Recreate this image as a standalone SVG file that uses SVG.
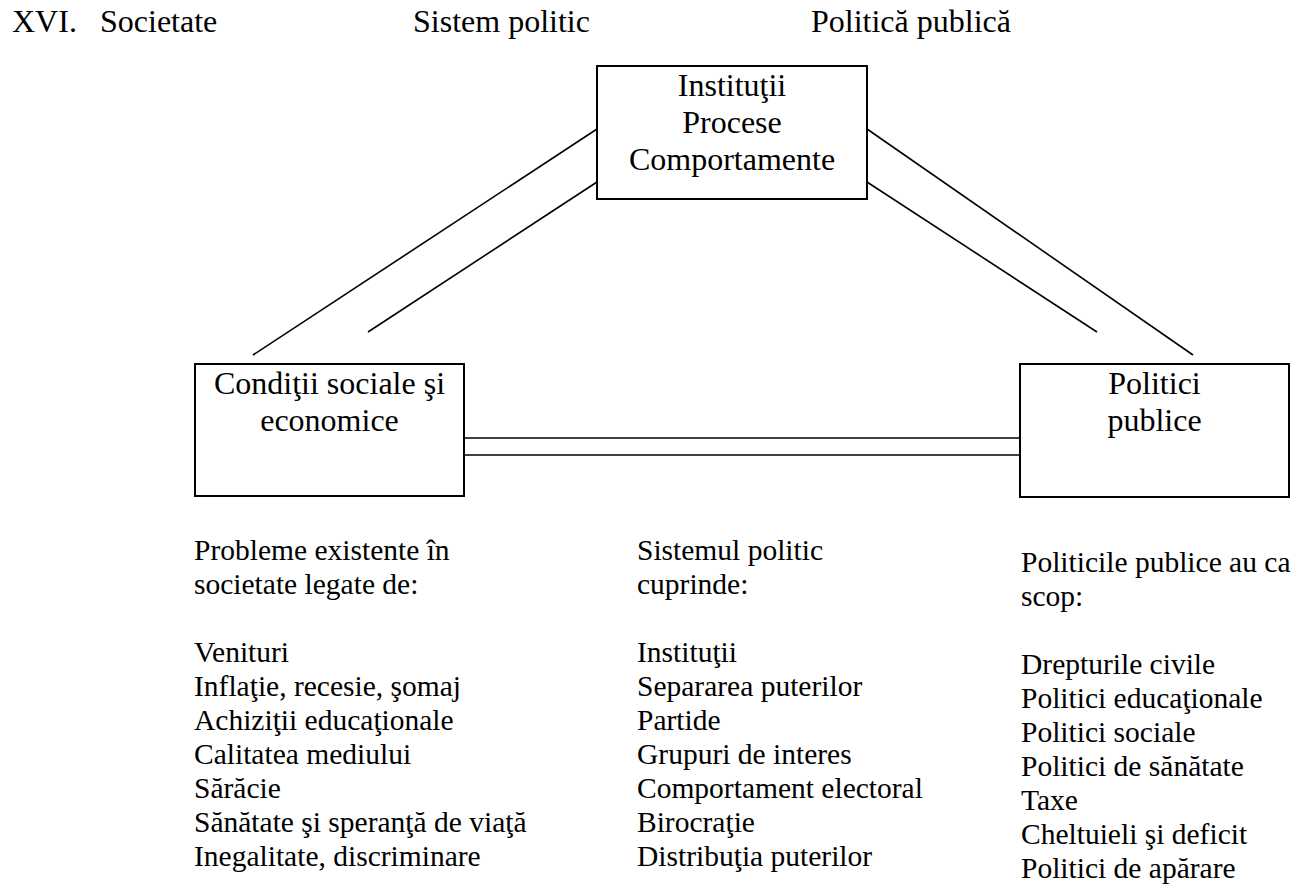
<svg xmlns="http://www.w3.org/2000/svg" width="1305" height="893" viewBox="0 0 1305 893">
<style>
text{font-family:"Liberation Serif","Times New Roman",serif;fill:#000}
.h{font-size:32px}
.b{font-size:32px;text-anchor:middle}
.t{font-size:29.5px}
.box{fill:#fff;stroke:#000;stroke-width:2}
.ln{stroke:#000;stroke-width:1.6;fill:none}
</style>
<rect width="1305" height="893" fill="#fff"/>
<g id="header">
<text class="h" x="12" y="32">XVI.</text>
<text class="h" x="100" y="32">Societate</text>
<text class="h" x="413" y="32">Sistem politic</text>
<text class="h" x="811" y="32">Politică publică</text>
</g>
<g id="connectors">
<line class="ln" x1="253" y1="355" x2="597" y2="129"/>
<line class="ln" x1="368" y1="332" x2="597" y2="182"/>
<line class="ln" x1="867" y1="129" x2="1193" y2="355"/>
<line class="ln" x1="867" y1="182" x2="1097" y2="332"/>
<line class="ln" x1="464" y1="438" x2="1020" y2="438"/>
<line class="ln" x1="464" y1="455" x2="1020" y2="455"/>
</g>
<g id="node-sistem">
<rect class="box" x="597" y="66" width="270" height="133"/>
<text class="b" x="732" y="96">Instituţii</text>
<text class="b" x="732" y="133">Procese</text>
<text class="b" x="732" y="170">Comportamente</text>
</g>
<g id="node-conditii">
<rect class="box" x="195" y="364" width="269" height="132"/>
<text class="b" x="329.5" y="394">Condiţii sociale şi</text>
<text class="b" x="329.5" y="431">economice</text>
</g>
<g id="node-politici">
<rect class="box" x="1020" y="364" width="269" height="133"/>
<text class="b" x="1154.5" y="394">Politici</text>
<text class="b" x="1154.5" y="431">publice</text>
</g>
<g id="list-societate">
<text class="t" x="194" y="560">Probleme existente în</text>
<text class="t" x="194" y="594">societate legate de:</text>
<text class="t" x="194" y="662">Venituri</text>
<text class="t" x="194" y="696">Inflaţie, recesie, şomaj</text>
<text class="t" x="194" y="730">Achiziţii educaţionale</text>
<text class="t" x="194" y="764">Calitatea mediului</text>
<text class="t" x="194" y="798">Sărăcie</text>
<text class="t" x="194" y="832">Sănătate şi speranţă de viaţă</text>
<text class="t" x="194" y="866">Inegalitate, discriminare</text>
</g>
<g id="list-sistem">
<text class="t" x="637" y="560">Sistemul politic</text>
<text class="t" x="637" y="594">cuprinde:</text>
<text class="t" x="637" y="662">Instituţii</text>
<text class="t" x="637" y="696">Separarea puterilor</text>
<text class="t" x="637" y="730">Partide</text>
<text class="t" x="637" y="764">Grupuri de interes</text>
<text class="t" x="637" y="798">Comportament electoral</text>
<text class="t" x="637" y="832">Birocraţie</text>
<text class="t" x="637" y="866">Distribuţia puterilor</text>
</g>
<g id="list-politici">
<text class="t" x="1021" y="572">Politicile publice au ca</text>
<text class="t" x="1021" y="606">scop:</text>
<text class="t" x="1021" y="674">Drepturile civile</text>
<text class="t" x="1021" y="708">Politici educaţionale</text>
<text class="t" x="1021" y="742">Politici sociale</text>
<text class="t" x="1021" y="776">Politici de sănătate</text>
<text class="t" x="1021" y="810">Taxe</text>
<text class="t" x="1021" y="844">Cheltuieli şi deficit</text>
<text class="t" x="1021" y="878">Politici de apărare</text>
</g>
</svg>
